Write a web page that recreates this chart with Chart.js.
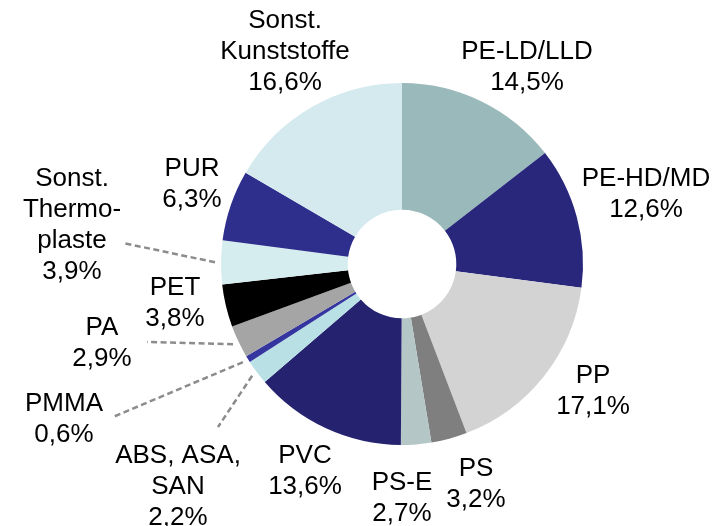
<!DOCTYPE html>
<html>
<head>
<meta charset="utf-8">
<script src="https://cdn.jsdelivr.net/npm/chart.js@4/dist/chart.umd.min.js"></script>
<style>
  body { margin: 0; background: #fff; }
  #wrap { width: 722px; height: 526px; position: relative; }
</style>
</head>
<body>
<div id="wrap"><canvas id="ringChart"></canvas></div>
<script>
// data (share in %)
const categories = ['PE-LD/LLD', 'PE-HD/MD', 'PP', 'PS', 'PS-E', 'PVC', 'ABS, ASA,\nSAN',
    'PMMA', 'PA', 'PET', 'Sonst.\nThermo-\nplaste', 'PUR', 'Sonst.\nKunststoffe'];
const shares = [14.5, 12.6, 17.1, 3.2, 2.7, 13.6, 2.2, 0.6, 2.9, 3.8, 3.9, 6.3, 16.6];
const colors = ['#9ab9ba', '#29277c', '#d3d3d3', '#7f7f7f', '#b4c6c6', '#252270', '#b9e0e4',
    '#3535a0', '#a5a5a5', '#000000', '#d6edf0', '#2e2e8c', '#d5eaee'];

// where each label's first line sits, and outer end of leader lines (null = none)
const labelPos = [[527, 50], [646, 177], [593, 374], [476, 467], [402, 481], [305, 454], [178, 454],
    [64, 402], [102, 326], [175, 286], [72, 177], [192, 167], [285, 19]];
const leaderEnd = [null, null, null, null, null, null, [218, 427],
    [113, 417], [147, 342], null, [123, 243], null, null];

const LINE_H = 31;
const FONT = '26px "Liberation Sans", Arial, sans-serif';

const labelPlugin = {
    id: 'sliceLabels',
    afterDatasetsDraw(chart) {
        const ctx = chart.ctx;
        const meta = chart.getDatasetMeta(0);
        ctx.save();
        meta.data.forEach((arc, i) => {
            const end = leaderEnd[i];
            if (end) {
                const mid = (arc.startAngle + arc.endAngle) / 2;
                const r = arc.outerRadius + 6;
                ctx.beginPath();
                ctx.setLineDash([6, 3.5]);
                ctx.strokeStyle = '#8c8c8c';
                ctx.lineWidth = 2.5;
                ctx.moveTo(arc.x + Math.cos(mid) * r, arc.y + Math.sin(mid) * r);
                ctx.lineTo(end[0], end[1]);
                ctx.stroke();
            }
            const lines = categories[i].split('\n');
            lines.push(shares[i].toFixed(1).replace('.', ',') + '%');
            ctx.setLineDash([]);
            ctx.font = FONT;
            ctx.fillStyle = '#000';
            ctx.textAlign = 'center';
            ctx.textBaseline = 'alphabetic';
            lines.forEach((t, k) => {
                ctx.fillText(t, labelPos[i][0], labelPos[i][1] + k * LINE_H + 9.3);
            });
        });
        ctx.restore();
    }
};

new Chart(document.getElementById('ringChart').getContext('2d'), {
    type: 'doughnut',
    data: {
        labels: categories,
        datasets: [{
            data: shares,
            backgroundColor: colors,
            borderWidth: 0
        }]
    },
    options: {
        responsive: true,
        maintainAspectRatio: false,
        animation: false,
        cutout: '30%',
        layout: { padding: { left: 221, right: 139, top: 83, bottom: 81 } },
        events: [],
        plugins: {
            legend: { display: false },
            tooltip: { enabled: false }
        }
    },
    plugins: [labelPlugin]
});
</script>
</body>
</html>
